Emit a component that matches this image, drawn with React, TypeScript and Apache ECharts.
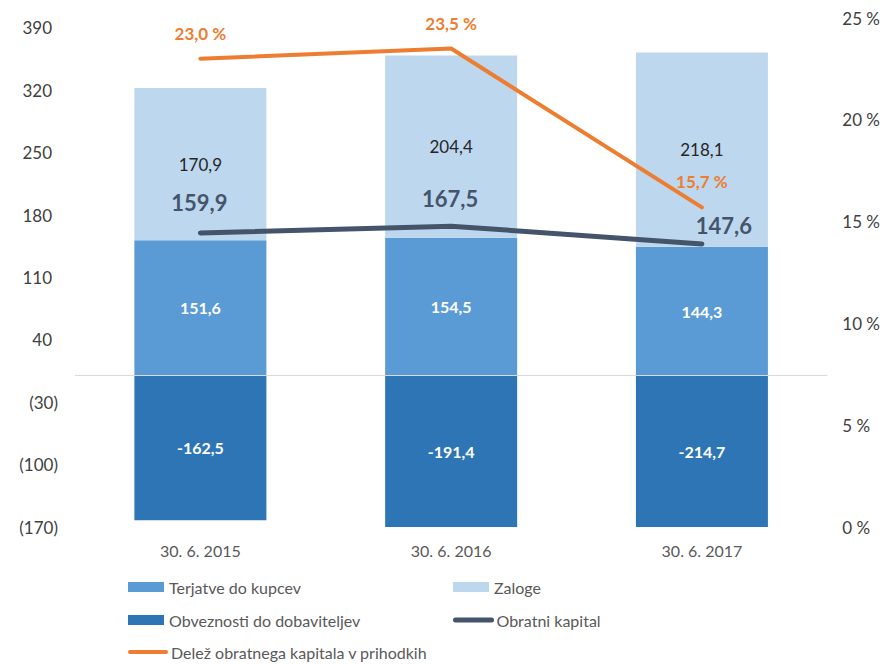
import React, { useEffect, useRef } from 'react';
import * as echarts from 'echarts';

const categories = ['30. 6. 2015', '30. 6. 2016', '30. 6. 2017'];
const terjatve = [151.6, 154.5, 144.3];
const zaloge = [170.9, 204.4, 218.1];
const obveznosti = [-162.5, -191.4, -214.7];
const obratniKapital = [159.9, 167.5, 147.6];
const delez = [23.0, 23.5, 15.7];
const obratniLabelOffsets = [[-1, -30], [-1, -28], [22, -18]];

const FONT = 'Lato';
const fmt = (v: number) => v.toFixed(1).replace('.', ',');

export default function App() {
  const ref = useRef<HTMLDivElement>(null);
  useEffect(() => {
    if (!ref.current) return;
    const chart = echarts.init(ref.current, undefined, { renderer: 'svg' });
    const textStyle = { color: '#595959', fontSize: 16, fontFamily: FONT };
    const legendItem = (left: number, top: number, item: any) => ({
      left, top, padding: 0, orient: 'horizontal', itemWidth: 36, itemHeight: 10, itemGap: 10,
      selectedMode: false, textStyle, data: [item],
    });
    chart.setOption({
      animation: false,
      backgroundColor: '#ffffff',
      textStyle: { fontFamily: FONT },
      grid: { left: 75, right: 55, top: 18, bottom: 137 },
      legend: [
        legendItem(128, 579, { name: 'Terjatve do kupcev', icon: 'rect' }),
        legendItem(128, 612, { name: 'Obveznosti do dobaviteljev', icon: 'rect' }),
        legendItem(128, 644, { name: 'Delež obratnega kapitala v prihodkih', itemStyle: { opacity: 0 }, lineStyle: { width: 4, cap: 'round', color: '#ED7D31' } }),
        legendItem(453, 579, { name: 'Zaloge', icon: 'rect' }),
        legendItem(453, 612, { name: 'Obratni kapital', itemStyle: { opacity: 0 }, lineStyle: { width: 5, cap: 'round', color: '#44546A' } }),
      ],
      xAxis: {
        type: 'category',
        data: categories,
        axisLine: { show: false, onZero: false },
        axisTick: { show: false },
        axisLabel: { color: '#595959', fontSize: 16, fontFamily: FONT, margin: 15 },
      },
      yAxis: [
        {
          type: 'value', min: -170, max: 401, interval: 70,
          splitLine: { show: false }, axisLine: { show: false }, axisTick: { show: false },
          axisLabel: {
            showMaxLabel: false,
            color: '#404040', fontSize: 17, fontFamily: FONT, margin: 17,
            formatter: (v: number) => (v < 0 ? `(${-v})` : `{p|${v}}`),
            rich: { p: { padding: [0, 6, 0, 0], fontSize: 17, fontFamily: FONT, color: '#404040' } },
          },
        },
        {
          type: 'value', min: 0, max: 25, interval: 5, position: 'right',
          splitLine: { show: false }, axisLine: { show: false }, axisTick: { show: false },
          axisLabel: { color: '#404040', fontSize: 17, fontFamily: FONT, margin: 15, formatter: '{value} %' },
        },
      ],
      series: [
        {
          name: 'Terjatve do kupcev', type: 'bar', stack: 'total', barWidth: 132,
          itemStyle: { color: '#5B9BD5' },
          label: { show: true, position: 'inside', color: '#ffffff', fontWeight: 'bold', fontSize: 16, fontFamily: FONT, formatter: (p: any) => fmt(p.value) },
          data: terjatve,
          markLine: {
            silent: true, symbol: ['none', 'none'], label: { show: false },
            lineStyle: { color: '#D9D9D9', width: 1, type: 'solid' },
            data: [{ yAxis: 0 }],
          },
        },
        {
          name: 'Zaloge', type: 'bar', stack: 'total', barWidth: 132,
          itemStyle: { color: '#BDD7EE' },
          label: { show: true, position: 'inside', color: '#262626', fontSize: 17, fontFamily: FONT, formatter: (p: any) => fmt(p.value) },
          data: zaloge,
        },
        {
          name: 'Obveznosti do dobaviteljev', type: 'bar', stack: 'total', barWidth: 132,
          itemStyle: { color: '#2E75B6' },
          label: { show: true, position: 'inside', color: '#ffffff', fontWeight: 'bold', fontSize: 16, fontFamily: FONT, formatter: (p: any) => fmt(p.value) },
          data: obveznosti,
        },
        {
          name: 'Obratni kapital', type: 'line', yAxisIndex: 0, z: 5,
          symbol: 'circle', symbolSize: 2,
          itemStyle: { color: '#44546A' },
          lineStyle: { color: '#44546A', width: 5, cap: 'round' },
          label: { show: true, position: 'inside', color: '#44546A', fontWeight: 'bold', fontSize: 22, fontFamily: FONT, formatter: (p: any) => fmt(p.value) },
          data: obratniKapital.map((v, i) => ({ value: v, label: { offset: obratniLabelOffsets[i] } })),
        },
        {
          name: 'Delež obratnega kapitala v prihodkih', type: 'line', yAxisIndex: 1, z: 6,
          symbol: 'circle', symbolSize: 2,
          itemStyle: { color: '#ED7D31' },
          lineStyle: { color: '#ED7D31', width: 4, cap: 'round' },
          label: { show: true, position: 'top', distance: 16, color: '#ED7D31', fontWeight: 'bold', fontSize: 17, fontFamily: FONT, formatter: (p: any) => `${fmt(p.value)} %` },
          data: delez,
        },
      ],
    });
    return () => chart.dispose();
  }, []);
  return <div ref={ref} style={{ position: 'fixed', left: 0, top: 0, width: 883, height: 664 }} />;
}
